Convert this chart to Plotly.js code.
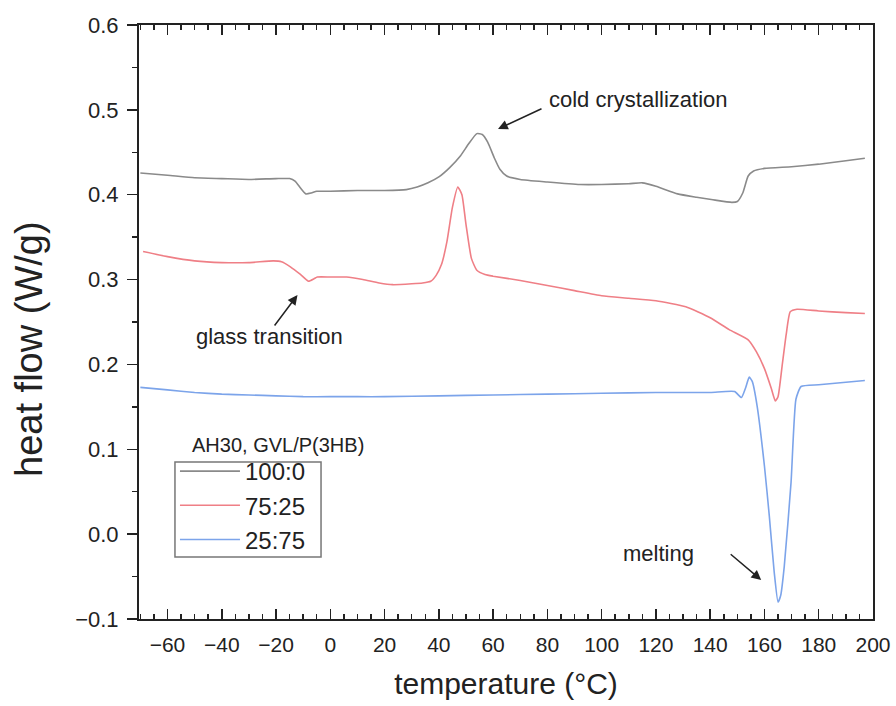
<!DOCTYPE html>
<html>
<head>
<meta charset="utf-8">
<script src="https://cdn.plot.ly/plotly-3.0.1.min.js"></script>
<style>html,body{margin:0;padding:0;background:#fff;}</style>
</head>
<body>
<div id="chart" style="width:896px;height:706px;"></div>
<script>
// Series names
const seriesNames = ["100:0", "75:25", "25:75"];

// 100:0 (gray)
const grayT = [-70,-60,-50,-40,-30,-20,-15,-13,-11,-9,-7,-5,0,10,20,28,32,36,40,44,48,51,54,56,58,60.5,62.5,65,70,80,92,100,110,115,120,128,135,141,148,150,152,154,156,160,170,180,190,197];
const grayV = [0.4256,0.423,0.420,0.419,0.418,0.419,0.419,0.416,0.408,0.401,0.402,0.404,0.404,0.405,0.405,0.406,0.409,0.414,0.421,0.432,0.446,0.460,0.472,0.471,0.462,0.443,0.430,0.422,0.418,0.415,0.412,0.412,0.413,0.414,0.410,0.401,0.397,0.394,0.391,0.392,0.402,0.422,0.428,0.431,0.433,0.436,0.440,0.443];

// 75:25 (red)
const redT = [-69,-60,-50,-40,-30,-21,-18,-14.7,-11,-8,-6,-4.8,0,6,12,18,23,30,34,37,39,41,43,45,47,48.5,50,52,54,57,60,70,80,90,100,110,120,131,140,147,154,157,160,162.5,164,165,166.5,168,169.5,172,180,190,197];
const redV = [0.333,0.327,0.322,0.320,0.320,0.322,0.321,0.315,0.306,0.298,0.301,0.303,0.303,0.303,0.300,0.296,0.294,0.295,0.296,0.298,0.305,0.318,0.345,0.385,0.409,0.400,0.365,0.325,0.311,0.306,0.304,0.299,0.293,0.287,0.281,0.278,0.275,0.268,0.255,0.241,0.229,0.215,0.195,0.172,0.157,0.162,0.198,0.235,0.262,0.265,0.263,0.261,0.260];

// 25:75 (blue)
const blueT = [-70,-60,-50,-40,-30,-20,-10,0,10,20,40,60,80,100,120,140,149,151.5,153,154.4,155.5,157.3,160,161.8,163.6,165,166,167.3,169.8,171.6,173.5,180,190,197];
const blueV = [0.173,0.170,0.167,0.165,0.164,0.163,0.162,0.162,0.162,0.162,0.163,0.164,0.165,0.166,0.167,0.167,0.168,0.161,0.172,0.185,0.180,0.151,0.080,0.021,-0.045,-0.080,-0.072,-0.038,0.061,0.159,0.174,0.176,0.179,0.181];

const colors = ["#8a8a8a", "#ef7f86", "#7ca4ea"];

const traces = [
  {x: grayT, y: grayV, name: seriesNames[0], mode: "lines", line: {color: colors[0], width: 1.6, shape: "spline", smoothing: 0.5}},
  {x: redT, y: redV, name: seriesNames[1], mode: "lines", line: {color: colors[1], width: 1.6, shape: "spline", smoothing: 0.5}},
  {x: blueT, y: blueV, name: seriesNames[2], mode: "lines", line: {color: colors[2], width: 1.6, shape: "spline", smoothing: 0.5}}
];

const axisColor = "#222";
const layout = {
  width: 896, height: 706,
  margin: {l: 139, r: 23, t: 25, b: 87},
  paper_bgcolor: "#fff", plot_bgcolor: "#fff",
  font: {family: "Liberation Sans, Arial, sans-serif", color: "#222"},
  showlegend: true,
  legend: {
    x: 0.049, y: 0.2862, xanchor: "left", yanchor: "top",
    bgcolor: "rgba(0,0,0,0)", borderwidth: 0,
    font: {size: 24, color: "#222"}, itemwidth: 60, tracegroupgap: 0
  },
  shapes: [
    {type: "rect", xref: "paper", yref: "paper", x0: 0.049, x1: 0.248, y0: 0.1044, y1: 0.2643,
     line: {color: "#777", width: 1.5}, fillcolor: "rgba(0,0,0,0)", layer: "above"}
  ],
  xaxis: {
    range: [-70.5, 200], tick0: 0, dtick: 20,
    ticks: "inside", ticklen: 10, tickwidth: 1.5, tickcolor: axisColor,
    showline: true, linewidth: 2, linecolor: axisColor, mirror: "ticks",
    minor: {dtick: 5, ticks: "inside", ticklen: 5, tickwidth: 1.5, tickcolor: axisColor},
    showgrid: false, zeroline: false,
    ticklabelstandoff: 6,
    tickfont: {size: 21, color: "#222"},
    title: {text: "temperature (°C)", font: {size: 30, color: "#222"}, standoff: 18}
  },
  yaxis: {
    range: [-0.1, 0.6], tick0: 0, dtick: 0.1, tickformat: ".1f",
    ticks: "outside", ticklen: 10, tickwidth: 1.5, tickcolor: axisColor,
    showline: true, linewidth: 2, linecolor: axisColor, mirror: true,
    minor: {dtick: 0.05, ticks: "outside", ticklen: 5, tickwidth: 1.5, tickcolor: axisColor},
    showgrid: false, zeroline: false,
    ticklabelstandoff: 4,
    tickfont: {size: 22, color: "#222"}
  },
  annotations: [
    {xref: "paper", yref: "paper", x: -0.15, y: 0.4545, text: "heat flow (W/g)", textangle: -90,
     showarrow: false, font: {size: 38, color: "#222"}, xanchor: "center", yanchor: "middle"},
    {xref: "paper", yref: "paper", x: 0.0695, y: 0.293, text: "AH30, GVL/P(3HB)", showarrow: false,
     xanchor: "left", yanchor: "middle", font: {size: 20, color: "#222"}},
    {xref: "paper", yref: "paper", x: 0.680, y: 0.875, text: "cold crystallization", showarrow: false,
     xanchor: "center", yanchor: "middle", font: {size: 22, color: "#222"}},
    {xref: "paper", yref: "paper", x: 0.178, y: 0.476, text: "glass transition", showarrow: false,
     xanchor: "center", yanchor: "middle", font: {size: 22, color: "#222"}},
    {xref: "paper", yref: "paper", x: 0.708, y: 0.111, text: "melting", showarrow: false,
     xanchor: "center", yanchor: "middle", font: {size: 22, color: "#222"}},
    {x: 61.8, y: 0.4774, text: "", showarrow: true, ax: 45, ay: -21, arrowhead: 2, arrowsize: 1.3, arrowwidth: 1.5, arrowcolor: "#222"},
    {x: -12.1, y: 0.2818, text: "", showarrow: true, ax: -24, ay: 32, arrowhead: 2, arrowsize: 1.3, arrowwidth: 1.5, arrowcolor: "#222"},
    {x: 158.8, y: -0.054, text: "", showarrow: true, ax: -32, ay: -27, arrowhead: 2, arrowsize: 1.3, arrowwidth: 1.5, arrowcolor: "#222"}
  ]
};

Plotly.newPlot("chart", traces, layout, {displayModeBar: false, staticPlot: true});
</script>
</body>
</html>
